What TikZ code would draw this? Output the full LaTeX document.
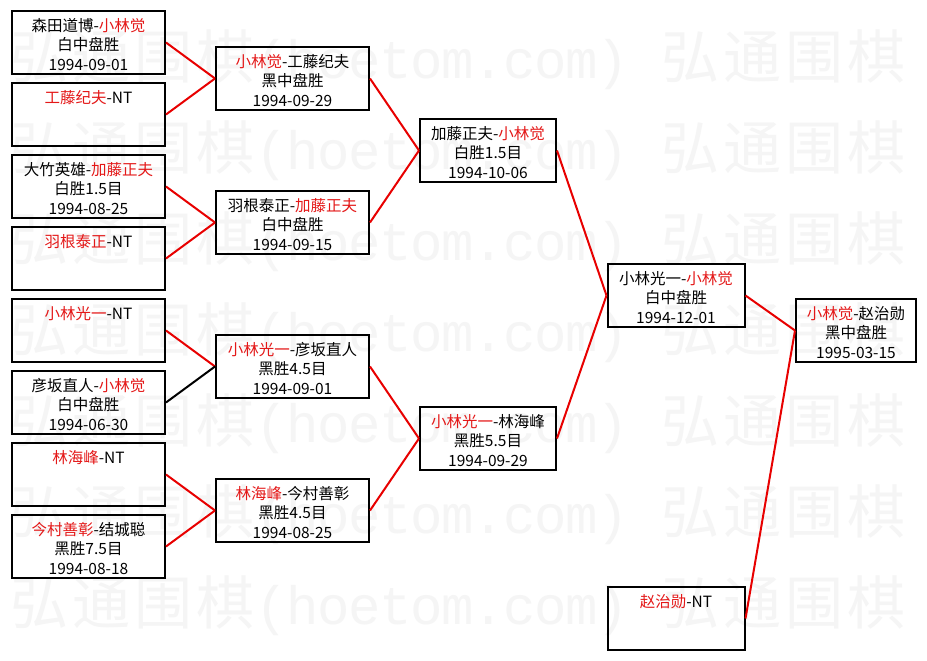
\documentclass[tikz,border=0pt]{standalone}
\usepackage{fontspec}
\setmainfont{Noto Sans CJK SC}
\newfontfamily\wmlatin{Liberation Mono}
\definecolor{nred}{RGB}{228,24,24}
\definecolor{lred}{RGB}{232,0,0}
\definecolor{wmgray}{RGB}{245,245,245}
\newcommand\R[1]{\textcolor{nred}{#1}}
\newcommand\bt[4]{\parbox[c][63pt][t]{#1}{\centering\fontsize{15.5}{19.5}\selectfont\vspace*{6.5pt}\strut#2\\\strut#3\\\strut#4}}
\newcommand\fw[1]{\makebox[62pt]{\fontsize{58}{60}\selectfont #1}}
\newcommand\hw[1]{\makebox[31pt]{\fontsize{54}{60}\selectfont\wmlatin #1}}
\newcommand\wmrow{\fw{弘}\fw{通}\fw{围}\fw{棋}\hw{(}\hw{h}\hw{o}\hw{e}\hw{t}\hw{o}\hw{m}\hw{.}\hw{c}\hw{o}\hw{m}\hw{)}\hw{ }\fw{弘}\fw{通}\fw{围}\fw{棋}}
\tikzset{
  box/.style={draw=black, line width=2pt, inner sep=0pt},
  win/.style={draw=lred, line width=2pt},
  lose/.style={draw=black, line width=2pt},
  wm/.style={inner sep=0pt, text=wmgray, anchor=west}
}
\begin{document}
\begin{tikzpicture}[x=1pt,y=-1pt]
\useasboundingbox (0,0) rectangle (927,661);
\fill[white] (0,0) rectangle (927,661);
% watermark
\foreach \r/\yy in {1/60,2/151,3/242,4/333,5/424,6/515,7/606}
  \node[wm] (wm\r) at (8,\yy) {\wmrow};
% column 1
\node[box] (b1) at (88.5,42.5)  {\bt{153pt}{森田道博-\R{小林觉}}{白中盘胜}{1994-09-01}};
\node[box] (b2) at (88.5,114.5) {\bt{153pt}{\R{工藤纪夫}-NT}{}{}};
\node[box] (b3) at (88.5,186.5) {\bt{153pt}{大竹英雄-\R{加藤正夫}}{白胜1.5目}{1994-08-25}};
\node[box] (b4) at (88.5,258.5) {\bt{153pt}{\R{羽根泰正}-NT}{}{}};
\node[box] (b5) at (88.5,330.5) {\bt{153pt}{\R{小林光一}-NT}{}{}};
\node[box] (b6) at (88.5,402.5) {\bt{153pt}{彦坂直人-\R{小林觉}}{白中盘胜}{1994-06-30}};
\node[box] (b7) at (88.5,474.5) {\bt{153pt}{\R{林海峰}-NT}{}{}};
\node[box] (b8) at (88.5,546.5) {\bt{153pt}{\R{今村善彰}-结城聪}{黑胜7.5目}{1994-08-18}};
% column 2
\node[box] (c1) at (292.5,78.5)  {\bt{153pt}{\R{小林觉}-工藤纪夫}{黑中盘胜}{1994-09-29}};
\node[box] (c2) at (292.5,222.5) {\bt{153pt}{羽根泰正-\R{加藤正夫}}{白中盘胜}{1994-09-15}};
\node[box] (c3) at (292.5,366.5) {\bt{153pt}{\R{小林光一}-彦坂直人}{黑胜4.5目}{1994-09-01}};
\node[box] (c4) at (292.5,510.5) {\bt{153pt}{\R{林海峰}-今村善彰}{黑胜4.5目}{1994-08-25}};
% column 3
\node[box] (d1) at (488,150.5) {\bt{136pt}{加藤正夫-\R{小林觉}}{白胜1.5目}{1994-10-06}};
\node[box] (d2) at (488,438.5) {\bt{136pt}{\R{小林光一}-林海峰}{黑胜5.5目}{1994-09-29}};
% column 4
\node[box] (e1) at (676,295.5) {\bt{137pt}{小林光一-\R{小林觉}}{白中盘胜}{1994-12-01}};
\node[box] (e2) at (676,618.5) {\bt{137pt}{\R{赵治勋}-NT}{}{}};
% column 5
\node[box] (f1) at (856,330.5) {\bt{120pt}{\R{小林觉}-赵治勋}{黑中盘胜}{1995-03-15}};
% connectors
\draw[win] (b1.east) -- (c1.west);
\draw[win] (b2.east) -- (c1.west);
\draw[win] (b3.east) -- (c2.west);
\draw[win] (b4.east) -- (c2.west);
\draw[win] (b5.east) -- (c3.west);
\draw[lose] (b6.east) -- (c3.west);
\draw[win] (b7.east) -- (c4.west);
\draw[win] (b8.east) -- (c4.west);
\draw[win] (c1.east) -- (d1.west);
\draw[win] (c2.east) -- (d1.west);
\draw[win] (c3.east) -- (d2.west);
\draw[win] (c4.east) -- (d2.west);
\draw[win] (d1.east) -- (e1.west);
\draw[win] (d2.east) -- (e1.west);
\draw[win] (e1.east) -- (f1.west);
\draw[win] (e2.east) -- (f1.west);
\end{tikzpicture}
\end{document}
